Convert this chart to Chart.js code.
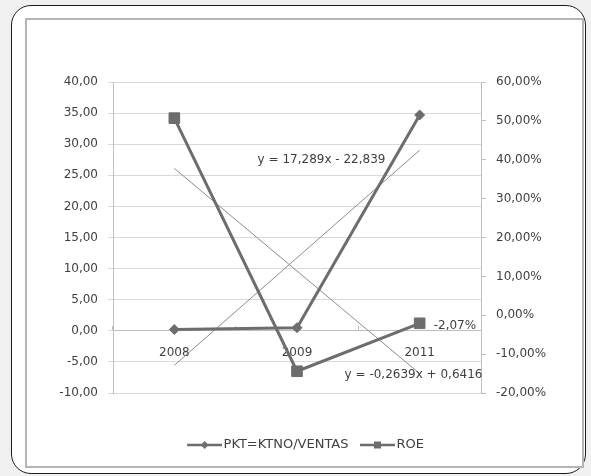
<!DOCTYPE html>
<html>
<head>
<meta charset="utf-8">
<script src="https://cdn.jsdelivr.net/npm/chart.js@4.4.1/dist/chart.umd.min.js"></script>
<style>
  html, body { margin: 0; padding: 0; background: #f0f0f0; width: 591px; height: 476px; overflow: hidden; }
  #marco { position: absolute; left: 11px; top: 5px; width: 573px; height: 467px; border: 1.5px solid #1c1c1c; border-radius: 20px; background: #fff; }
  #caixa { position: absolute; left: 25px; top: 18px; width: 555px; height: 446px; border: 2px solid #b4b4b4; background: #fff; }
  #grafico { position: absolute; left: 0; top: 0; }
</style>
</head>
<body>
<div id="marco"></div>
<div id="caixa"></div>
<canvas id="grafico" width="591" height="476"></canvas>
<script>
// dados
const anos = ['2008', '2009', '2011'];
const pkt = [0.2, 0.5, 34.7];          // PKT=KTNO/VENTAS (eixo esquerdo)
const roe = [50.7, -14.4, -2.07];      // ROE em % (eixo direito)
const tendPkt = [-5.55, 11.74, 29.03]; // linha de tendência PKT
const tendRoe = [37.77, 11.38, -15.01];// linha de tendência ROE (%)
const nomes = ['PKT=KTNO/VENTAS', 'ROE'];
const eqPkt = 'y = 17,289x - 22,839';
const eqRoe = 'y = -0,2639x + 0,6416';

const COR_TEXTO = '#3f3f3f';
const COR_SERIE = '#6d6d6d';
const COR_TEND = '#8c8c8c';
const COR_GRADE = '#d9d9d9';
const COR_EIXO = '#bfbfbf';
const FONTE = { family: '"DejaVu Sans", sans-serif', size: 12 };
const FONTE_LEG = { family: '"DejaVu Sans", sans-serif', size: 13 };

const num = v => v.toFixed(2).replace('.', ',');
const pct = v => num(v) + '%';

// ícones da legenda: linha + marcador pequeno
function iconeLegenda(tipo) {
    const c = document.createElement('canvas');
    c.width = 40; c.height = 12;
    const g = c.getContext('2d');
    g.strokeStyle = COR_SERIE; g.fillStyle = COR_SERIE; g.lineWidth = 2.5;
    g.beginPath(); g.moveTo(5, 6); g.lineTo(40, 6); g.stroke();
    g.beginPath();
    if (tipo === 'losango') {
        g.moveTo(22.5, 2); g.lineTo(26.5, 6); g.lineTo(22.5, 10); g.lineTo(18.5, 6);
    } else {
        g.rect(19, 2.5, 7, 7);
    }
    g.closePath(); g.fill();
    return c;
}
const icones = [iconeLegenda('losango'), iconeLegenda('quadrado')];

const textos = {
    id: 'textos',
    afterDatasetsDraw(chart) {
        const { ctx, scales: { x, y } } = chart;
        ctx.save();
        ctx.font = '12px "DejaVu Sans", sans-serif';
        ctx.fillStyle = COR_TEXTO;
        ctx.textBaseline = 'middle';
        ctx.textAlign = 'center';
        ctx.fillText(eqPkt, x.getPixelForValue(1.2), y.getPixelForValue(27.5));
        ctx.fillText(eqRoe, x.getPixelForValue(1.95), y.getPixelForValue(-7.1));
        const p = chart.getDatasetMeta(1).data[2];
        ctx.textAlign = 'left';
        ctx.fillText(pct(roe[2]), p.x + 14, p.y + 3);
        ctx.restore();
    }
};

new Chart(document.getElementById('grafico'), {
    type: 'line',
    plugins: [textos],
    data: {
        labels: anos,
        datasets: [
            { label: nomes[0], data: pkt, yAxisID: 'y', borderColor: COR_SERIE, backgroundColor: COR_SERIE,
              borderWidth: 3, pointStyle: 'rectRot', pointRadius: 5, pointBorderWidth: 1, tension: 0, order: 1 },
            { label: nomes[1], data: roe, yAxisID: 'y1', borderColor: COR_SERIE, backgroundColor: COR_SERIE,
              borderWidth: 3, pointStyle: 'rect', pointRadius: 7.5, pointBorderWidth: 1, tension: 0, order: 0 },
            { label: 'tendPkt', data: tendPkt, yAxisID: 'y', borderColor: COR_TEND, borderWidth: 1, pointRadius: 0, order: 2 },
            { label: 'tendRoe', data: tendRoe, yAxisID: 'y1', borderColor: COR_TEND, borderWidth: 1, pointRadius: 0, order: 2 }
        ]
    },
    options: {
        responsive: false, animation: false, events: [],
        layout: { padding: { left: 40, right: 20, top: 82, bottom: 14.5 } },
        scales: {
            x: {
                type: 'category', position: { y: 0 }, offset: true,
                grid: { drawOnChartArea: false, offset: true, tickLength: -5, color: COR_EIXO },
                border: { color: COR_EIXO },
                ticks: { padding: 20, font: FONTE, color: COR_TEXTO, maxRotation: 0 }
            },
            y: {
                position: 'left', min: -10, max: 40,
                afterFit: s => { s.width = 73; },
                grid: { color: COR_GRADE, tickLength: 5 },
                border: { color: COR_EIXO },
                ticks: { stepSize: 5, padding: 10, font: FONTE, color: COR_TEXTO, callback: v => num(v) }
            },
            y1: {
                position: 'right', min: -20, max: 60,
                afterFit: s => { s.width = 90; },
                grid: { drawOnChartArea: false, color: COR_EIXO, tickLength: 5 },
                border: { color: COR_EIXO },
                ticks: { stepSize: 10, padding: 10, font: FONTE, color: COR_TEXTO, callback: v => pct(v) }
            }
        },
        plugins: {
            tooltip: { enabled: false },
            legend: {
                position: 'bottom',
                title: { display: true, text: ' ', padding: { top: 0, bottom: 19.6 }, font: FONTE },
                labels: {
                    usePointStyle: true, pointStyleWidth: 30, padding: 11.5, font: FONTE_LEG, color: COR_TEXTO,
                    generateLabels: chart => nomes.map((n, i) => ({
                        text: n, pointStyle: icones[i], fontColor: COR_TEXTO, datasetIndex: i,
                        fillStyle: 'transparent', strokeStyle: 'transparent', lineWidth: 0, hidden: false
                    }))
                }
            }
        }
    }
});
</script>
</body>
</html>
